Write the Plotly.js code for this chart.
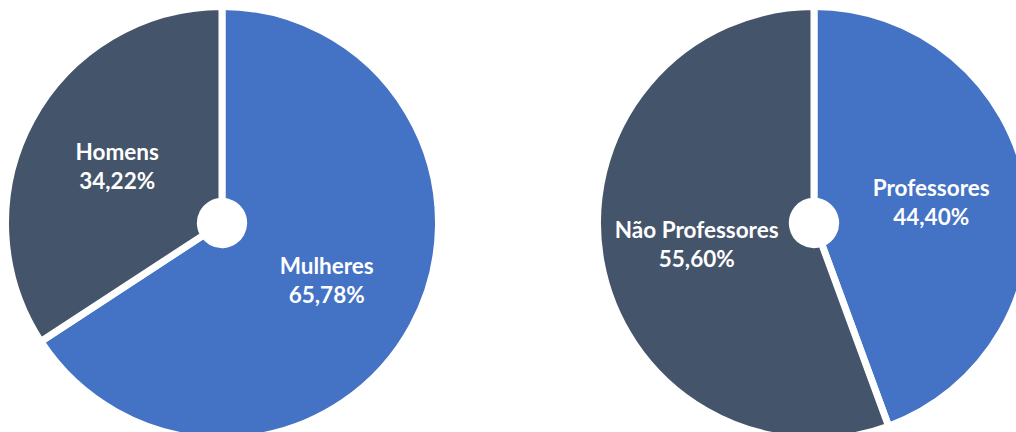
<!DOCTYPE html>
<html>
<head>
<meta charset="utf-8">
<script src="https://cdn.plot.ly/plotly-3.0.1.min.js"></script>
<style>
  html, body { margin: 0; padding: 0; overflow: hidden; background: #fff; width: 1016px; height: 432px; }
  #chart { width: 1040px; height: 446px; }
</style>
</head>
<body>
<div id="chart"></div>
<script>
// Data
const generoLabels = ["Mulheres", "Homens"];
const generoValues = [65.78, 34.22];
const profLabels = ["Professores", "Não Professores"];
const profValues = [44.40, 55.60];
const blue = "#4472C4";
const slate = "#44546A";

const common = {
  type: "pie",
  sort: false,
  direction: "clockwise",
  rotation: 0,
  hole: 0.1,
  textposition: "inside",
  insidetextorientation: "horizontal",
  texttemplate: "<b>%{label}</b><br><b>%{percent:.2%}</b>",
  textfont: { family: "Lato, 'Open Sans', sans-serif", size: 22.5, color: "#ffffff" },
  marker: { colors: [blue, slate], line: { color: "#ffffff", width: 7 } },
  hoverinfo: "skip",
  showlegend: false
};

const trace1 = Object.assign({}, common, {
  labels: generoLabels,
  values: generoValues,
  domain: { x: [5.5 / 1040, 438.5 / 1040], y: [0, 1] }
});
const trace2 = Object.assign({}, common, {
  labels: profLabels,
  values: profValues,
  domain: { x: [597.5 / 1040, 1030.5 / 1040], y: [0, 1] }
});

Plotly.newPlot("chart", [trace1, trace2], {
  width: 1040,
  height: 446,
  margin: { l: 0, r: 0, t: 0, b: 0, pad: 0 },
  separators: ",.",
  paper_bgcolor: "#ffffff",
  plot_bgcolor: "#ffffff",
  showlegend: false
}, { displayModeBar: false, staticPlot: true });
</script>
</body>
</html>
